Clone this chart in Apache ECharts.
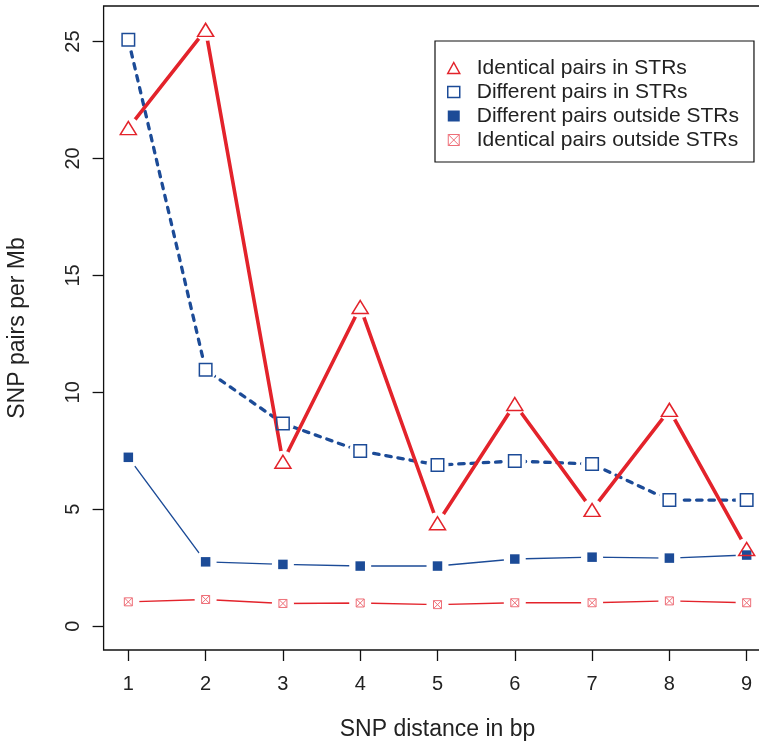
<!DOCTYPE html>
<html>
<head>
<meta charset="utf-8">
<script src="https://cdn.jsdelivr.net/npm/echarts@6/dist/echarts.min.js"></script>
<style>
  html, body { margin: 0; padding: 0; background: #fff; }
  #chart { width: 759px; height: 742px; }
</style>
</head>
<body>
<div id="chart"></div>
<script>
// SNP distance (bp)
const distances = [1, 2, 3, 4, 5, 6, 7, 8, 9];
const yTicks = [0, 5, 10, 15, 20, 25];

// SNP pairs per Mb
const identicalInSTR = [21.3, 25.5, 7.03, 13.65, 4.4, 9.5, 4.97, 9.25, 3.3];
const differentInSTR = [25.08, 10.96, 8.67, 7.49, 6.89, 7.06, 6.93, 5.39, 5.39];
const differentOutSTR = [7.22, 2.75, 2.64, 2.57, 2.57, 2.87, 2.95, 2.91, 3.04];
const identicalOutSTR = [1.04, 1.14, 0.97, 0.99, 0.92, 1.0, 1.0, 1.08, 1.0];

const RED = '#e3232b';
const BLUE = '#1c4b97';
const PINK = '#ee6f78';
const FONT = 'Liberation Sans';
const crossBox = 'path://M0 0H10V10H0Z M0 0L10 10 M10 0L0 10';

const toPts = vals => vals.map((v, i) => [distances[i], v]);

// the line with white discs as its own symbols: they open the gap
// around each point like R's type = "b"
function gappedLine(id, vals, lineStyle, z) {
  return {
    name: id + '-line', type: 'line', data: toPts(vals),
    symbol: 'circle', symbolSize: 22, showSymbol: true, showAllSymbol: true,
    itemStyle: { color: '#fff', borderWidth: 0, opacity: 1 },
    lineStyle: lineStyle, z: z, silent: true
  };
}

const chart = echarts.init(document.getElementById('chart'), null, { renderer: 'canvas' });

chart.setOption({
  animation: false,
  backgroundColor: '#fff',
  textStyle: { fontFamily: FONT },
  grid: {
    left: 103.6, top: 6, right: -12.4, bottom: 92,
    outerBoundsMode: 'none', containLabel: false,
    show: true, borderColor: '#111', borderWidth: 1.3, backgroundColor: 'transparent'
  },
  xAxis: {
    type: 'value', min: 0.68, max: 9.32,
    name: 'SNP distance in bp', nameLocation: 'middle', nameGap: 68,
    nameTextStyle: { fontSize: 23, color: '#222', fontFamily: FONT },
    axisLine: { show: false, onZero: false },
    splitLine: { show: false },
    axisTick: { show: true, customValues: distances, length: 11, lineStyle: { color: '#111', width: 1.3 } },
    axisLabel: { customValues: distances, fontSize: 20, color: '#222', margin: 24, fontFamily: FONT }
  },
  yAxis: {
    type: 'value', min: -1.02, max: 26.52,
    name: 'SNP pairs per Mb', nameLocation: 'middle', nameGap: 74,
    nameTextStyle: { fontSize: 23, color: '#222', fontFamily: FONT },
    axisLine: { show: false, onZero: false },
    splitLine: { show: false },
    axisTick: { show: true, customValues: yTicks, length: 11, lineStyle: { color: '#111', width: 1.3 } },
    axisLabel: {
      customValues: yTicks, fontSize: 20, color: '#222', margin: 20, rotate: 90,
      align: 'center', verticalAlign: 'bottom', fontFamily: FONT
    }
  },
  legend: {
    orient: 'vertical', left: 435, top: 41,
    padding: [15, 15, 10, 12], itemGap: 0,
    itemWidth: 12, itemHeight: 11,
    borderColor: '#111', borderWidth: 1.2, backgroundColor: '#fff', z: 30,
    selectedMode: false,
    textStyle: { fontSize: 21, lineHeight: 24, color: '#222', fontFamily: FONT, padding: [0, 0, 0, 12] },
    data: [
      { name: 'Identical pairs in STRs', icon: 'triangle',
        itemStyle: { color: 'rgba(0,0,0,0)', borderColor: RED, borderWidth: 1.5, opacity: 1 } },
      { name: 'Different pairs in STRs', icon: 'rect',
        itemStyle: { color: 'rgba(0,0,0,0)', borderColor: BLUE, borderWidth: 1.5, opacity: 1 } },
      { name: 'Different pairs outside STRs', icon: 'rect',
        itemStyle: { color: BLUE, borderWidth: 0, opacity: 1 } },
      { name: 'Identical pairs outside STRs', icon: crossBox,
        itemStyle: { color: 'rgba(0,0,0,0)', borderColor: PINK, borderWidth: 1, opacity: 1 } }
    ]
  },
  series: [
    gappedLine('io', identicalOutSTR, { color: RED, width: 1.4 }, 1),
    gappedLine('do', differentOutSTR, { color: BLUE, width: 1.4 }, 2),
    gappedLine('di', differentInSTR, { color: BLUE, width: 3.3, type: [5.5, 6.8], cap: 'round' }, 3),
    gappedLine('ii', identicalInSTR, { color: RED, width: 3.6 }, 4),
    {
      name: 'Identical pairs outside STRs', type: 'scatter', data: toPts(identicalOutSTR),
      symbol: crossBox, symbolSize: 8, z: 10,
      itemStyle: { color: 'rgba(0,0,0,0)', borderColor: PINK, borderWidth: 1, opacity: 1 }
    },
    {
      name: 'Different pairs outside STRs', type: 'scatter', data: toPts(differentOutSTR),
      symbol: 'rect', symbolSize: 9.5, z: 11,
      itemStyle: { color: BLUE, opacity: 1 }
    },
    {
      name: 'Different pairs in STRs', type: 'scatter', data: toPts(differentInSTR),
      symbol: 'rect', symbolSize: 12.5, z: 12,
      itemStyle: { color: 'rgba(0,0,0,0)', borderColor: BLUE, borderWidth: 1.5, opacity: 1 }
    },
    {
      name: 'Identical pairs in STRs', type: 'scatter', data: toPts(identicalInSTR),
      symbol: 'triangle', symbolSize: [16, 13], z: 13,
      itemStyle: { color: 'rgba(0,0,0,0)', borderColor: RED, borderWidth: 1.5, opacity: 1 }
    }
  ]
});
</script>
</body>
</html>
